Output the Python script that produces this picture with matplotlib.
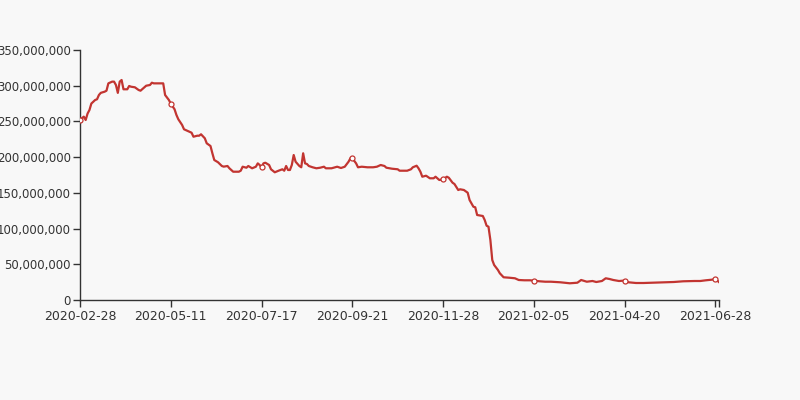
import matplotlib.pyplot as plt
import matplotlib.ticker as mticker

# category positions (day index on the x axis) and values in millions
day = [0, 2, 3, 4, 5, 6, 7, 8, 9, 10, 11, 13, 14, 15, 17, 18, 19, 20, 21, 22,
       23, 25, 26, 27, 29, 31, 32, 33, 35, 37, 38, 39, 42, 44, 45, 47, 48, 50, 51, 52,
       54, 55, 57, 59, 60, 62, 63, 64, 66, 67, 69, 70, 71, 73, 75, 76, 78, 79, 81, 84,
       85, 86, 88, 89, 91, 93, 94, 95, 96, 97, 98, 100, 101, 103, 105, 107, 108, 109, 110, 111,
       112, 113, 114, 116, 117, 118, 119, 120, 121, 123, 125, 127, 129, 130, 133, 136, 138, 140, 142, 143,
       144, 146, 147, 149, 152, 155, 157, 159, 161, 162, 165, 168, 169, 171, 173, 175, 176, 178, 179, 180,
       181, 183, 185, 187, 188, 190, 192, 194, 195, 197, 198, 200, 201, 203, 205, 206, 208, 209, 210, 213,
       214, 215, 216, 217, 218, 219, 221, 222, 224, 227, 230, 232, 235, 238, 240, 243, 246, 249, 254, 259,
       263, 265, 268, 271, 273, 276, 278, 280, 282, 285, 287, 288, 290, 294, 298, 303, 309, 314, 319, 325,
       328, 331, 334, 336, 338]

value_m = [252, 256.7, 252, 261, 266, 275, 277.6, 280, 281, 287, 290, 291.6, 293, 303.3, 305.7, 305.7, 301, 290, 305.7, 308,
           295, 295, 299.6, 298.6, 297.8, 294, 293, 295.4, 300, 301, 304.2, 303.3, 303.3, 303.3, 287, 280, 275, 267, 259, 253,
           245, 239, 236.6, 234.2, 228.6, 230, 230, 232, 226.4, 219.4, 215.6, 205.4, 196, 192.8, 187.6, 186.7, 187.6, 184.4, 179.6, 179.6,
           181, 186.6, 185.2, 187.6, 184.4, 186.6, 191.3, 189, 185.8, 191.3, 192.2, 189, 183, 178.8, 181, 183, 181, 187.6, 182, 182,
           189, 203, 193.6, 187.6, 185.8, 205.4, 191.3, 190.4, 187.6, 185.8, 184.4, 185.2, 186.6, 184.4, 184.4, 186.6, 184.8, 186.6, 193.6, 198.4,
           198.4, 191.3, 185.8, 186.6, 185.8, 185.8, 186.6, 189, 187.6, 185.2, 183.8, 183, 181, 181, 181, 183, 185.8, 188, 184.4, 179.6,
           172.6, 174, 170.4, 170.4, 172.6, 168, 169, 172.6, 171.2, 164.2, 162.4, 154, 155, 154, 150.2, 140, 130.6, 129.8, 119, 117.6,
           112, 104, 102.6, 84, 56, 49, 42, 37.4, 31.8, 31.2, 30.4, 28, 27.6, 27.6, 27, 26.2, 25.6, 25.6, 24.8, 23.4,
           24.2, 28, 25.6, 26.6, 25.2, 26.6, 30.4, 29.4, 28, 26.6, 27, 27, 24.8, 23.8, 23.8, 24.2, 24.8, 25.2, 26.2, 26.6,
           26.6, 27.6, 28.4, 29.4, 24.8]

tick_days = [0, 48, 96, 144, 192, 240, 288, 336]
tick_labels = ["2020-02-28", "2020-05-11", "2020-07-17", "2020-09-21",
               "2020-11-28", "2021-02-05", "2021-04-20", "2021-06-28"]
last_day = 338

line_color = "#c23531"
text_color = "#333333"

values = [v * 1e6 for v in value_m]

fig = plt.figure(figsize=(8, 4), dpi=100)
fig.patch.set_facecolor("#f8f8f8")
ax = fig.add_axes([0.1, 0.25, 0.799, 0.625])
ax.set_facecolor("#f8f8f8")

ax.plot(day, values, color=line_color, linewidth=1.6, solid_joinstyle="round", zorder=3)

# hollow markers where the axis labels are
mark_x = [d for d in day if d in tick_days]
mark_y = [values[day.index(d)] for d in mark_x]
ax.plot(mark_x, mark_y, linestyle="none", marker="o", markersize=3.6,
        markerfacecolor="white", markeredgecolor=line_color, markeredgewidth=0.9, zorder=4)

ax.set_xlim(0, last_day)
ax.set_ylim(0, 350e6)
ax.set_xticks(tick_days)
ax.set_xticklabels(tick_labels)
ax.set_xticks([last_day], minor=True)
ax.set_yticks(range(0, 350000001, 50000000))
ax.yaxis.set_major_formatter(mticker.FuncFormatter(lambda v, p: f"{int(v):,}"))

for s in ["top", "right"]:
    ax.spines[s].set_visible(False)
for s in ["left", "bottom"]:
    ax.spines[s].set_color(text_color)
    ax.spines[s].set_linewidth(1)

ax.tick_params(axis="both", which="both", direction="out", length=5, width=1,
               color=text_color, labelcolor=text_color)
ax.tick_params(axis="x", pad=2, labelsize=9)
ax.tick_params(axis="y", pad=1.5, labelsize=8.5)

plt.savefig("out.png", dpi=100, facecolor=fig.get_facecolor())
